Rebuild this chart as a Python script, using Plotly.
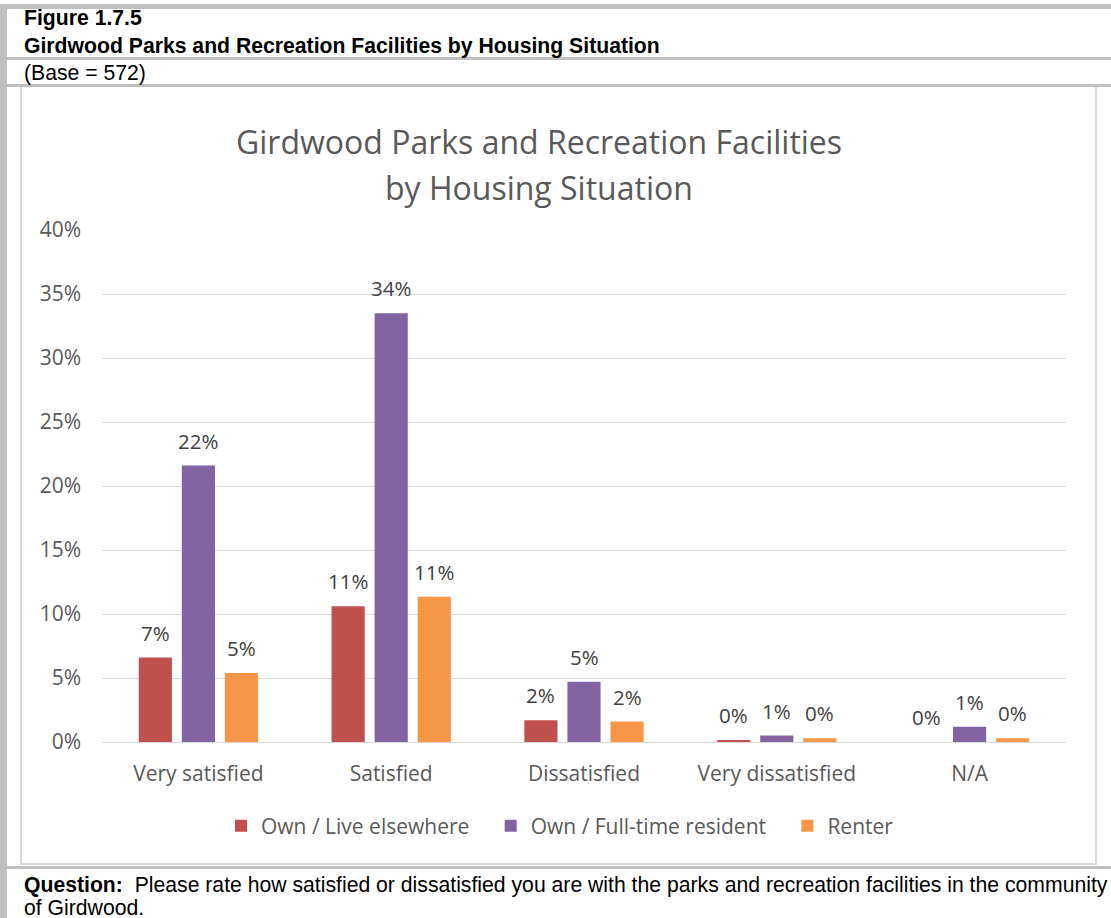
import math
import plotly.graph_objects as go

categories = ["Very satisfied", "Satisfied", "Dissatisfied", "Very dissatisfied", "N/A"]
series_names = ["Own / Live elsewhere", "Own / Full-time resident", "Renter"]
own_elsewhere = [6.6, 10.6, 1.7, 0.16, 0.0]
own_fulltime = [21.6, 33.5, 4.7, 0.5, 1.2]
renter = [5.4, 11.35, 1.6, 0.3, 0.3]
series_values = [own_elsewhere, own_fulltime, renter]
colors = ["#C0504D", "#8064A2", "#F79646"]
y_ticks = [0, 5, 10, 15, 20, 25, 30, 35, 40]

W, H = 1111, 918
PL, PR, PT, PB = 102, 1066, 230, 742  # plot area pixel box

def px(x):
    return (x - PL) / (PR - PL)

def py(y):
    return (PB - y) / (PB - PT)

BODY = "Open Sans, Calibri, Carlito, sans-serif"
ARIAL = "Arial, Liberation Sans, sans-serif"
HSIZE = 21.2
FS = 21

fig = go.Figure()
legend_pad = "&nbsp;" * 3
for k, (name, vals, col) in enumerate(zip(series_names, series_values, colors)):
    label = name + (legend_pad if k < len(series_names) - 1 else "")
    fig.add_trace(go.Bar(x=categories, y=vals, name=label,
                         marker=dict(color=col, line=dict(width=0))))

BARGAP, GROUPGAP = 0.33, 0.23
cat_w = (PR - PL) / len(categories)
slot = cat_w * (1 - BARGAP) / 3

annotations = []
for i, vals in enumerate(series_values):
    for c, v in zip(categories, vals):
        annotations.append(dict(x=c, y=v, xref="x", yref="y", text=f"{math.floor(v + 0.5)}%",
                                showarrow=False, xshift=(i - 1) * slot, yshift=25,
                                font=dict(family=BODY, size=20.5, color="#404040"),
                                xanchor="center", yanchor="middle"))

HX = 22
annotations += [
    dict(x=px(HX), y=py(18), xref="paper", yref="paper", text="<b>Figure 1.7.5</b>", showarrow=False,
         xanchor="left", yanchor="middle", font=dict(family=ARIAL, size=HSIZE, color="#000000")),
    dict(x=px(HX), y=py(46), xref="paper", yref="paper",
         text="<b>Girdwood Parks and Recreation Facilities by Housing Situation</b>", showarrow=False,
         xanchor="left", yanchor="middle", font=dict(family=ARIAL, size=HSIZE, color="#000000")),
    dict(x=px(HX), y=py(73), xref="paper", yref="paper", text="(Base = 572)", showarrow=False,
         xanchor="left", yanchor="middle", font=dict(family=ARIAL, size=HSIZE, color="#000000")),
    dict(x=px(HX), y=py(885), xref="paper", yref="paper",
         text="<b>Question:</b>&nbsp; Please rate how satisfied or dissatisfied you are with the parks and recreation facilities in the community",
         showarrow=False, xanchor="left", yanchor="middle", font=dict(family=ARIAL, size=HSIZE, color="#000000")),
    dict(x=px(HX), y=py(907), xref="paper", yref="paper", text="of Girdwood.", showarrow=False,
         xanchor="left", yanchor="middle", font=dict(family=ARIAL, size=HSIZE, color="#000000")),
    dict(x=px(539), y=py(141), xref="paper", yref="paper", text="Girdwood Parks and Recreation Facilities",
         showarrow=False, xanchor="center", yanchor="middle", font=dict(family=BODY, size=32, color="#595959")),
    dict(x=px(539), y=py(187), xref="paper", yref="paper", text="by Housing Situation",
         showarrow=False, xanchor="center", yanchor="middle", font=dict(family=BODY, size=32, color="#595959")),
]

def rect(x0, y0, x1, y1, color):
    return dict(type="rect", xref="paper", yref="paper", x0=px(x0), x1=px(x1), y0=py(y1), y1=py(y0),
                fillcolor=color, line=dict(width=0), layer="below")

shapes = [
    rect(0, 4, W, 9, "#c0c0c0"),
    rect(0, 4, 7, H, "#c0c0c0"),
    rect(7, 57, W, 60, "#c0c0c0"),
    rect(7, 84, W, 87, "#c0c0c0"),
    rect(20, 87, 22, 865, "#d9d9d9"),
    rect(1095, 87, 1097, 865, "#d9d9d9"),
    rect(20, 863, 1097, 865, "#d9d9d9"),
    rect(7, 866, W, 869, "#c0c0c0"),
]

fig.update_layout(
    width=W, height=H,
    margin=dict(l=PL, r=W - PR, t=PT, b=H - PB, autoexpand=False),
    paper_bgcolor="white", plot_bgcolor="white",
    barmode="group", bargap=BARGAP, bargroupgap=GROUPGAP,
    showlegend=True,
    legend=dict(orientation="h", x=px(560), xanchor="center", y=py(826), yanchor="middle",
                font=dict(family=BODY, size=FS, color="#595959"), itemwidth=30,
                traceorder="normal"),
    annotations=annotations,
    shapes=shapes,
    font=dict(family=BODY, size=FS, color="#595959"),
)
fig.update_yaxes(range=[0, 40], tickvals=y_ticks, ticktext=[f"{t}%" for t in y_ticks],
                 showgrid=True, gridcolor="#d9d9d9", gridwidth=1, zeroline=False,
                 showline=False, ticks="", ticklabelstandoff=20,
                 tickfont=dict(family=BODY, size=FS, color="#595959"))
fig.update_xaxes(showline=True, linecolor="#d9d9d9", linewidth=1, ticks="", ticklabelstandoff=13,
                 tickfont=dict(family=BODY, size=FS, color="#595959"))

fig.write_html("out.html", config={"displayModeBar": False},
               post_script="document.body.style.margin='0';document.body.style.overflow='hidden';")
